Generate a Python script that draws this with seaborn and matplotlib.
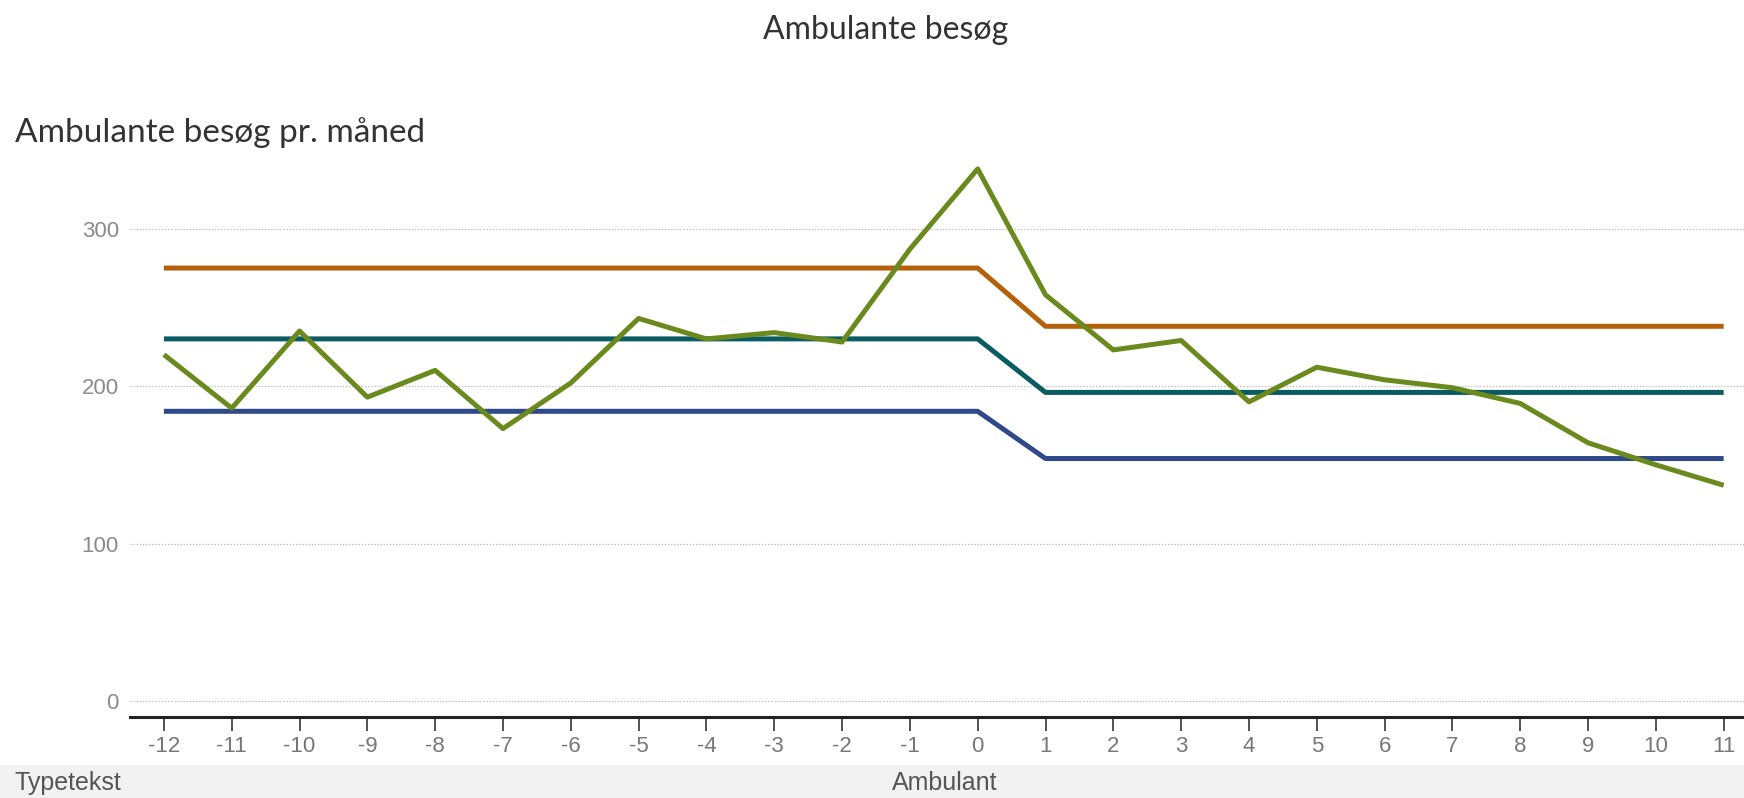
import matplotlib
matplotlib.use("Agg")
import matplotlib.pyplot as plt
from matplotlib.patches import Rectangle
import pandas as pd
import seaborn as sns

# data
months = list(range(-12, 12))
visits = [220, 186, 235, 193, 210, 173, 202, 243, 230, 234, 228, 287,
          338, 258, 223, 229, 190, 212, 204, 199, 189, 164, 150, 137]
upper = [275] * 13 + [238] * 11
mean = [230] * 13 + [196] * 11
lower = [184] * 13 + [154] * 11

series_names = ["Øvre grænse", "Gennemsnit", "Nedre grænse", "Ambulante besøg"]
colors = ["#b5600b", "#0b5b63", "#2f4a8a", "#6a8a1e"]

df = pd.concat(
    [
        pd.DataFrame({"Måned": months, "Antal": vals, "Serie": name})
        for name, vals in zip(series_names, [upper, mean, lower, visits])
    ],
    ignore_index=True,
)

sns.set_style("white")
plt.rcParams["font.family"] = ["Lato", "DejaVu Sans"]
narrow = ["Liberation Sans Narrow", "Liberation Sans", "DejaVu Sans"]

fig = plt.figure(figsize=(17.44, 7.98), dpi=100)
ax = fig.add_axes([130 / 1744, 81 / 798, 1 - 130 / 1744, (717 - 150) / 798])

sns.lineplot(
    data=df, x="Måned", y="Antal", hue="Serie", hue_order=series_names,
    palette=colors, linewidth=3.6, legend=False, ax=ax, zorder=3,
    solid_capstyle="butt",
)

ax.set_xlim(-12.5, 11.3)
ax.set_ylim(-10.2, 350)
ax.set_yticks([0, 100, 200, 300])
ax.set_xticks(months)
ax.set_xticklabels([str(m) for m in months], family=narrow, fontsize=16, color="#777777")
ax.set_yticklabels(["0", "100", "200", "300"], family=narrow, fontsize=16, color="#8a8a8a")
ax.yaxis.grid(True, linestyle=(0, (1, 1.5)), color="#b5b5b5", linewidth=0.9)
ax.xaxis.grid(False)
ax.tick_params(axis="y", length=0, pad=8)
ax.tick_params(axis="x", length=10, width=1.2, color="#333333", pad=4, direction="out")
ax.xaxis.set_ticks_position("bottom")
sns.despine(ax=ax, left=True)
ax.spines["bottom"].set_color("#222222")
ax.spines["bottom"].set_linewidth(2.2)
ax.set_xlabel("")
ax.set_ylabel("")

fig.text(886 / 1744, 1 - 30 / 798, "Ambulante besøg", ha="center", va="center",
         fontsize=23, color="#333333")
fig.text(15 / 1744, 1 - 133 / 798, "Ambulante besøg pr. måned", ha="left", va="center",
         fontsize=24, color="#333333")

# bottom band
fig.patches.append(Rectangle((0, 0), 1, 33 / 798, transform=fig.transFigure,
                             facecolor="#f2f2f2", edgecolor="none", zorder=0))
fig.text(14 / 1744, 15 / 798, "Typetekst", ha="left", va="center",
         family=narrow, fontsize=18, color="#555555")
fig.text(945 / 1744, 15 / 798, "Ambulant", ha="center", va="center",
         family=narrow, fontsize=18, color="#555555")

fig.savefig("out.png", dpi=100)
